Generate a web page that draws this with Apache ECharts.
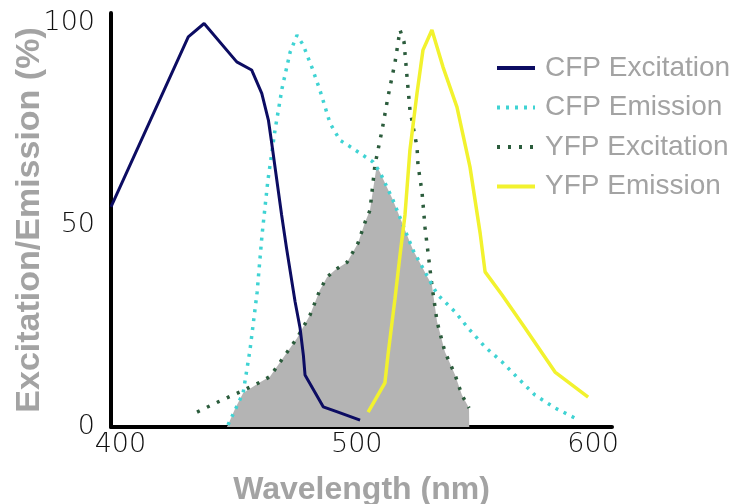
<!DOCTYPE html>
<html>
<head>
<meta charset="utf-8">
<script src="https://cdn.jsdelivr.net/npm/echarts@6/dist/echarts.min.js"></script>
<style>html,body{margin:0;padding:0;background:#fff}#c{width:737px;height:504px}</style>
</head>
<body>
<div id="c"></div>
<script>
// ---- data (wavelength nm, percent) ----
const xTicks = [400, 500, 600];
const yTicks = [0, 50, 100];
const seriesNames = ['CFP Excitation', 'CFP Emission', 'YFP Excitation', 'YFP Emission'];

const cfpExcitation = [[396,54.5],[428.7,96.6],[435.4,99.9],[449.2,90.4],[455.5,88.4],[459.8,82.6],[462.6,76],[464,70.3],[468.2,52.5],[470.3,44.2],[473.9,31],[476,24.5],[477.4,17.8],[478.1,12.9],[485.8,5],[491.5,3.8],[501.4,1.7]];

const cfpEmission = [[445.5,0.5],[451.9,8.4],[454.8,19],[457.8,33.2],[459.9,47.5],[462.4,61.1],[465.4,73.5],[468.4,83.9],[471.8,92.8],[474.7,97],[477.3,94.6],[481.1,88.9],[484.4,83.4],[488.7,75.2],[492.9,71],[498,69.1],[502.6,67.3],[506.9,65.6],[509.8,63.1],[515.3,56.2],[523.8,43.8],[534,32.9],[541.6,28.5],[547.1,24.5],[554.3,19.8],[561.5,16.1],[568.2,12.1],[575.4,7.9],[583.9,4.7],[592.4,2.2]];

const yfpExcitation = [[432.4,3.7],[441.3,6.2],[450.6,8.7],[459.1,11.1],[463.3,12.5],[468.8,17.1],[474.7,22],[480.2,27.7],[484.4,33.9],[487.4,37.1],[490.8,38.9],[495.9,40.8],[500.5,45.5],[503.5,50.7],[505.6,53.7],[507.7,64.9],[510.7,73.5],[513.2,81.7],[516.2,90.3],[518.3,98.3],[520,95.3],[521.3,86.4],[522.5,78.5],[525.5,69.3],[525.9,64.9],[527.6,58.2],[528.9,49.3],[531.8,35.1],[534,26],[537.3,18.6],[541.6,12.9],[544.5,7.9],[547.5,4.7]];

const yfpEmission = [[504.8,3.7],[511.9,10.9],[513.2,17.8],[516.2,31.9],[518.3,42.6],[520.4,52.5],[522.5,68.6],[525.5,82.7],[528,93.3],[531.8,98.3],[536.5,89.1],[542.4,79.2],[547.9,64.4],[552.2,48],[554.3,38.4],[561.5,32.7],[571.2,24.5],[583.9,13.6],[597.9,7.4]];

const overlap = [[445,0],[445.5,0.5],[448.5,4.5],[451.9,8.4],[459.1,11.1],[463.3,12.5],[468.8,17.1],[474.7,22],[480.2,27.7],[484.4,33.9],[487.4,37.1],[490.8,38.9],[495.9,40.8],[500.5,45.5],[503.5,50.7],[505.6,53.7],[508.4,64.6],[509.8,63.1],[515.3,56.2],[523.8,43.8],[531.8,35.1],[534,26],[537.3,18.6],[541.6,12.9],[544.5,7.9],[547.5,4.7],[547.6,0]];

const chart = echarts.init(document.getElementById('c'), null, {renderer: 'canvas'});
const tickFont = {fontFamily: 'DejaVu Sans', fontWeight: 200, fontSize: 27, color: '#111'};
const titleFont = {fontFamily: 'Liberation Sans, Arial, sans-serif', fontWeight: 'bold', color: '#a3a3a3'};

chart.setOption({
  animation: false,
  backgroundColor: '#fff',
  grid: {left: 111, right: 125, top: 13, bottom: 77, containLabel: false, outerBoundsMode: 'none'},
  legend: {
    data: seriesNames,
    orient: 'vertical',
    left: 490, top: 49,
    itemWidth: 38, itemHeight: 14, itemGap: 11.5,
    itemStyle: {opacity: 0, color: 'transparent', borderWidth: 0},
    lineStyle: {width: 4},
    textStyle: {fontFamily: 'Liberation Sans, Arial, sans-serif', fontSize: 28, color: '#a3a3a3', padding: [0,0,0,5]}
  },
  xAxis: {
    type: 'value', min: 396, max: 608,
    name: 'Wavelength (nm)', nameLocation: 'middle', nameGap: 47, nameMoveOverlap: false,
    nameTextStyle: Object.assign({fontSize: 32}, titleFont),
    axisLine: {show: true, onZero: false, lineStyle: {color: '#000', width: 4}},
    axisTick: {show: false},
    splitLine: {show: false},
    axisLabel: Object.assign({customValues: xTicks, margin: 4}, tickFont)
  },
  yAxis: {
    type: 'value', min: 0, max: 102.5,
    name: 'Excitation/Emission (%)', nameLocation: 'middle', nameGap: 64, nameMoveOverlap: false,
    nameTextStyle: Object.assign({fontSize: 34}, titleFont),
    axisLine: {show: true, lineStyle: {color: '#000', width: 4}},
    axisTick: {show: false},
    splitLine: {show: false},
    axisLabel: Object.assign({customValues: yTicks, margin: 16}, tickFont)
  },
  series: [
    {name: 'overlap', type: 'line', data: overlap, symbol: 'none', z: 1,
     lineStyle: {width: 0, color: '#b4b4b4'}, itemStyle: {color: '#b4b4b4'},
     areaStyle: {color: '#b4b4b4', opacity: 1}, silent: true},
    {name: seriesNames[2], type: 'line', data: yfpExcitation, symbol: 'none', z: 3,
     itemStyle: {color: '#2b5c3c'},
     lineStyle: {color: '#2b5c3c', width: 3.5, type: [3, 8]}},
    {name: seriesNames[1], type: 'line', data: cfpEmission, symbol: 'none', z: 4,
     itemStyle: {color: '#3fd3d3'},
     lineStyle: {color: '#3fd3d3', width: 3.5, type: [3, 6]}},
    {name: seriesNames[0], type: 'line', data: cfpExcitation, symbol: 'none', z: 5,
     itemStyle: {color: '#0c0c62'},
     lineStyle: {color: '#0c0c62', width: 3}},
    {name: seriesNames[3], type: 'line', data: yfpEmission, symbol: 'none', z: 6,
     itemStyle: {color: '#f2f22e'},
     lineStyle: {color: '#f2f22e', width: 3.5}}
  ]
});
</script>
</body>
</html>
